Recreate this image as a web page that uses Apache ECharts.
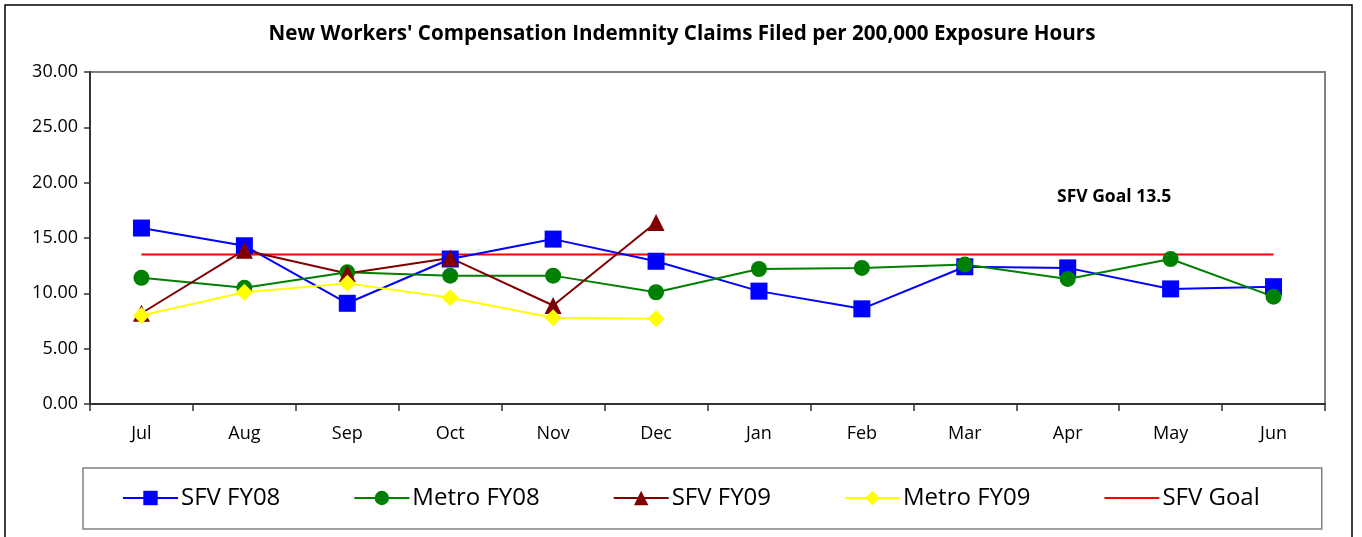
<!DOCTYPE html>
<html>
<head>
<meta charset="utf-8">
<title>Workers' Compensation Claims</title>
<script src="https://cdn.jsdelivr.net/npm/echarts@6/dist/echarts.min.js"></script>
<style>
  html, body { margin: 0; padding: 0; background: #fff; }
  #chart { width: 1362px; height: 537px; }
</style>
</head>
<body>
<div id="chart"></div>
<script>
// months of the fiscal year
const months = ["Jul", "Aug", "Sep", "Oct", "Nov", "Dec", "Jan", "Feb", "Mar", "Apr", "May", "Jun"];

const sfvFY08 = [15.9, 14.3, 9.1, 13.1, 14.9, 12.9, 10.2, 8.6, 12.4, 12.3, 10.4, 10.6];
const metroFY08 = [11.4, 10.5, 11.9, 11.6, 11.6, 10.1, 12.2, 12.3, 12.6, 11.3, 13.1, 9.7];
const sfvFY09 = [8.2, 13.9, 11.8, 13.2, 8.9, 16.4];
const metroFY09 = [8.0, 10.1, 10.9, 9.6, 7.8, 7.7];
const goalValue = 13.5;
const sfvGoal = months.map(() => goalValue);

const yTicks = [0, 5, 10, 15, 20, 25, 30];

const font = "'Open Sans', 'Noto Sans', sans-serif";

const chart = echarts.init(document.getElementById("chart"));

function lineSeries(name, data, color, symbol, size) {
  return {
    name: name,
    type: "line",
    data: data,
    symbol: symbol,
    symbolSize: size,
    showAllSymbol: true,
    lineStyle: { color: color, width: 2 },
    itemStyle: { color: color },
    emphasis: { disabled: true },
    animation: false
  };
}

chart.setOption({
  backgroundColor: "#fff",
  title: {
    text: "New Workers' Compensation Indemnity Claims Filed per 200,000 Exposure Hours",
    left: 677,
    textAlign: "center",
    top: 19,
    textStyle: { fontFamily: font, fontSize: 20.6, fontWeight: "bold", color: "#000" }
  },
  graphic: [
    {
      type: "rect",
      shape: { x: 5, y: 5, width: 1347, height: 545 },
      style: { fill: null, stroke: "#000", lineWidth: 1.5 },
      silent: true
    },
    {
      // top and right edges of the plot area
      type: "polyline",
      shape: { points: [[90, 72], [1325, 72], [1325, 404]] },
      style: { stroke: "#808080", lineWidth: 2, fill: null },
      silent: true
    },
    {
      type: "text",
      left: 1057,
      top: 188,
      style: { text: "SFV Goal " + goalValue, fontFamily: font, fontSize: 17.5, fontWeight: "bold", fill: "#000" },
      silent: true
    }
  ],
  legend: {
    left: 83,
    top: 468,
    padding: [18, 62, 19, 39],
    itemGap: 73,
    itemWidth: 55,
    itemHeight: 18,
    borderColor: "#808080",
    borderWidth: 1.5,
    textStyle: { fontFamily: font, fontSize: 24, color: "#000", padding: [0, 0, 0, -2] },
    data: [
      "SFV FY08",
      "Metro FY08",
      "SFV FY09",
      "Metro FY09",
      { name: "SFV Goal", itemStyle: { opacity: 0 } }
    ]
  },
  grid: {
    left: 90,
    right: 37,
    top: 72,
    bottom: 133
  },
  xAxis: {
    type: "category",
    data: months,
    boundaryGap: true,
    axisLine: { lineStyle: { color: "#333", width: 2 } },
    axisTick: { show: true, length: 7, inside: false, alignWithLabel: false, lineStyle: { color: "#333", width: 1.5 } },
    axisLabel: { fontFamily: font, fontSize: 18, color: "#000", margin: 21 },
    splitLine: { show: false }
  },
  yAxis: {
    type: "value",
    min: yTicks[0],
    max: yTicks[yTicks.length - 1],
    interval: 5,
    axisLine: { show: true, lineStyle: { color: "#333", width: 2 } },
    axisTick: { show: true, length: 6, lineStyle: { color: "#333", width: 1.5 } },
    axisLabel: { fontFamily: font, fontSize: 18, color: "#000", margin: 12, formatter: v => v.toFixed(2) },
    splitLine: { show: false }
  },
  series: [
    lineSeries("SFV FY08", sfvFY08, "#0000FF", "rect", 17),
    lineSeries("Metro FY08", metroFY08, "#008000", "circle", 16),
    lineSeries("SFV FY09", sfvFY09, "#800000", "triangle", 17),
    lineSeries("Metro FY09", metroFY09, "#FFFF00", "diamond", 17),
    Object.assign(lineSeries("SFV Goal", sfvGoal, "#FF0000", "none", 0), { z: 1 })
  ]
});
</script>
</body>
</html>
